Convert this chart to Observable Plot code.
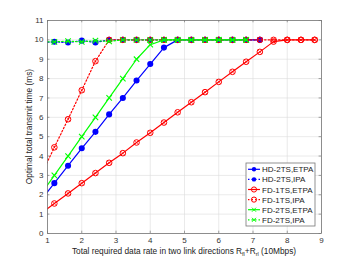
<!DOCTYPE html>
<html><head><meta charset="utf-8">
<script src="https://cdn.jsdelivr.net/npm/d3@7"></script>
<script src="https://cdn.jsdelivr.net/npm/@observablehq/plot@0.6"></script>
<style>body{margin:0;background:#fff;font-family:"Liberation Sans",Arial,sans-serif}</style>
</head><body><div id="chart"></div>
<script>
const xs = [0.8,1.2,1.6,2.0,2.4,2.8,3.2,3.6,4.0,4.4,4.8,5.2,5.6,6.0,6.4,6.8,7.2,7.6,8.0,8.4,8.8];
const hdEtpa = [1.7,2.6,3.5,4.4,5.25,6.15,7.0,7.9,8.75,9.6,10,10,10,10,10,10,10];
const hdIpa = [9.86,9.9,9.86,9.96,9.87,10,10,10,10,10,10,10,10,10,10,10,10];
const fd1Etpa = [1.03,1.55,2.07,2.6,3.12,3.65,4.15,4.7,5.2,5.73,6.26,6.78,7.3,7.83,8.35,8.87,9.38,9.91,10,10,10];
const fd1Ipa = [2.97,4.45,5.9,7.4,8.9,10,10,10,10,10,10,10,10,10,10,10,10,10,10,10,10];
const fd2Etpa = [2.0,3.0,4.0,5.0,6.0,7.0,8.0,9.0,9.75,10,10,10,10,10,10,10];
const fd2Ipa = [9.9,9.9,9.93,9.9,9.96,9.92,10,10,10,10,10,10,10,10,10,10];
const names = ["HD-2TS,ETPA","HD-2TS,IPA","FD-1TS,ETPA","FD-1TS,IPA","FD-2TS,ETPA","FD-2TS,IPA"];
const xTicks = [1,2,3,4,5,6,7,8,9];
const yTicks = [0,1,2,3,4,5,6,7,8,9,10,11];

const styles = [
  {c:"#0000ff", dash:null, m:"dot"},
  {c:"#0000ff", dash:"1.5,2", m:"dot"},
  {c:"#ff0000", dash:null, m:"circx"},
  {c:"#ff0000", dash:"1.5,2", m:"circx"},
  {c:"#00ff00", dash:null, m:"x"},
  {c:"#00ff00", dash:"1.5,2", m:"x"}
];
const series = [hdEtpa, hdIpa, fd1Etpa, fd1Ipa, fd2Etpa, fd2Ipa];
const rows = series.map((vals,i)=>vals.map((v,j)=>({x:xs[j], y:v, s:names[i]})));

const marks = [
  Plot.gridX(xTicks,{stroke:"#dcdcdc", strokeOpacity:1, strokeWidth:0.6}),
  Plot.gridY(yTicks,{stroke:"#dcdcdc", strokeOpacity:1, strokeWidth:0.6}),
  Plot.axisX(xTicks,{tickSize:0, tickPadding:4, fontSize:8, fill:"#333", label:null}),
  Plot.axisY(yTicks,{tickSize:0, tickPadding:4, fontSize:8, fill:"#333", label:null}),
  Plot.ruleX(xTicks,{x:d=>d, y1:0, y2:0.12, stroke:"#666", strokeWidth:0.6}),
  Plot.ruleX(xTicks,{x:d=>d, y1:11, y2:10.88, stroke:"#666", strokeWidth:0.6}),
  Plot.ruleY(yTicks,{y:d=>d, x1:1, x2:1.07, stroke:"#666", strokeWidth:0.6}),
  Plot.ruleY(yTicks,{y:d=>d, x1:9, x2:8.93, stroke:"#666", strokeWidth:0.6}),
];
rows.forEach((r,i)=>{
  const st = styles[i];
  marks.push(Plot.line(r,{x:"x",y:"y",stroke:st.c,strokeWidth:1.2,strokeDasharray:st.dash,clip:true}));
  if(st.m==="dot"){
    marks.push(Plot.dot(r,{x:"x",y:"y",r:2.3,fill:st.c,stroke:st.c,clip:true}));
  } else if(st.m==="circx"){
    marks.push(Plot.dot(r,{x:"x",y:"y",r:2.8,fill:"none",stroke:st.c,strokeWidth:1,clip:true}));
    marks.push(Plot.dot(r,{x:"x",y:"y",r:2.2,symbol:"times",stroke:st.c,strokeWidth:0.6,clip:true}));
  } else {
    marks.push(Plot.dot(r,{x:"x",y:"y",r:2.6,symbol:"times",stroke:st.c,strokeWidth:1.1,clip:true}));
  }
});
marks.push(Plot.frame({stroke:"#777", strokeWidth:0.8}));

const chart = Plot.plot({
  width:356, height:262,
  marginLeft:47, marginRight:35, marginTop:20, marginBottom:29,
  style:{fontFamily:"Liberation Sans, Arial, sans-serif", background:"#fff"},
  x:{type:"linear", domain:[1,9]},
  y:{type:"linear", domain:[0,11]},
  marks
});
document.getElementById("chart").appendChild(chart);

const svg = d3.select(chart);
const FF = "Liberation Sans, Arial, sans-serif";
// axis labels
const xl = svg.append("text").attr("x",184).attr("y",254).attr("text-anchor","middle")
  .attr("font-size",8.3).attr("fill","#222").attr("font-family",FF);
xl.append("tspan").text("Total required data rate in two link directions R");
xl.append("tspan").attr("font-size",5.5).attr("dy",2).text("fl");
xl.append("tspan").attr("dy",-2).text("+R");
xl.append("tspan").attr("font-size",5.5).attr("dy",2).text("rl");
xl.append("tspan").attr("dy",-2).text(" (10Mbps)");
svg.append("text").attr("transform","translate(32,126.5) rotate(-90)").attr("text-anchor","middle")
  .attr("font-size",8.3).attr("fill","#222").attr("font-family",FF)
  .text("Optimal total transmit time (ms)");

// legend
const lg = svg.append("g").attr("text-anchor","start");
lg.append("rect").attr("x",246).attr("y",163).attr("width",69).attr("height",63)
  .attr("fill","#fff").attr("stroke","#777").attr("stroke-width",0.8);
names.forEach((n,i)=>{
  const y = 169.3 + i*10.1, st = styles[i];
  lg.append("line").attr("x1",248).attr("x2",260).attr("y1",y).attr("y2",y)
    .attr("stroke",st.c).attr("stroke-width",1.2).attr("stroke-dasharray",st.dash);
  if(st.m==="dot") lg.append("circle").attr("cx",254).attr("cy",y).attr("r",2.2).attr("fill",st.c);
  else if(st.m==="circx"){
    lg.append("circle").attr("cx",254).attr("cy",y).attr("r",2.6).attr("fill","none").attr("stroke",st.c);
  } else {
    lg.append("path").attr("d",`M252,${y-2}L256,${y+2}M252,${y+2}L256,${y-2}`).attr("stroke",st.c).attr("stroke-width",1);
  }
  lg.append("text").attr("x",262).attr("y",y+3).attr("text-anchor","start").attr("font-size",8).attr("fill","#222")
    .attr("font-family",FF).text(n);
});
</script></body></html>
